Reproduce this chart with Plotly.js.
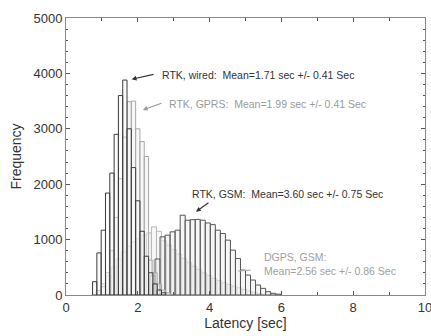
<!DOCTYPE html>
<html>
<head>
<meta charset="utf-8">
<script src="https://cdn.plot.ly/plotly-3.0.1.min.js"></script>
<style>html,body{margin:0;padding:0;background:#fff;}#chart{width:431px;height:336px;}</style>
</head>
<body>
<div id="chart"></div>
<script>
// Bin centers (sec) and frequencies
var wiredX = [0.80,0.92,1.04,1.16,1.28,1.40,1.52,1.64,1.76,1.88,2.00,2.12,2.24,2.36,2.48,2.60,2.72];
var wiredY = [240,760,1170,1840,2200,2900,3600,3880,3000,2300,1700,1150,700,400,200,90,40];

var gprsX = [1.04,1.16,1.28,1.40,1.52,1.64,1.76,1.88,2.00,2.12,2.24,2.36,2.48,2.60,2.72,2.84];
var gprsY = [150,400,800,1400,2100,2850,3490,3500,3000,2770,2500,630,400,200,90,40];

var dgpsX = [0.91,1.05,1.19,1.33,1.47,1.61,1.75,1.89,2.03,2.17,2.31,2.45,2.59,2.73,2.87,3.01,3.15,3.29,3.43,3.57,3.71,3.85,3.99,4.13,4.27,4.41,4.55,4.69,4.83,4.97,5.11,5.25,5.39];
var dgpsY = [80,200,350,500,650,780,880,960,1020,1080,1120,1230,1150,980,900,820,740,660,590,520,460,400,350,300,260,220,190,160,130,100,70,45,25];

var gsmX = [2.41,2.55,2.69,2.83,2.97,3.11,3.25,3.39,3.53,3.67,3.81,3.95,4.09,4.23,4.37,4.51,4.65,4.79,4.93,5.07,5.21,5.35,5.49,5.63,5.77,5.91];
var gsmY = [350,650,1050,1080,1140,1170,1440,1350,1360,1365,1350,1300,1270,1170,1110,990,810,660,450,360,270,180,120,60,30,15];

var xTicks = [0,2,4,6,8,10];
var yTicks = [0,1000,2000,3000,4000,5000];

var labels = {
  wired: 'RTK, wired:  Mean=1.71 sec +/- 0.41 Sec',
  gprs: 'RTK, GPRS:  Mean=1.99 sec +/- 0.41 Sec',
  gsm: 'RTK, GSM:  Mean=3.60 sec +/- 0.75 Sec',
  dgps: 'DGPS, GSM:<br>Mean=2.56 sec +/- 0.86 Sec'
};

function barTrace(x, y, w, line, fill, lw) {
  return {type:'bar', x:x, y:y, width:w, hoverinfo:'skip',
    marker:{color:fill, line:{color:line, width:lw}}};
}

var data = [
  barTrace(dgpsX, dgpsY, 0.14, '#b8b8b8', 'rgba(240,240,240,0.5)', 1),
  barTrace(gsmX, gsmY, 0.14, '#555555', 'rgba(238,238,238,0.55)', 1),
  barTrace(gprsX, gprsY, 0.12, '#a8a8a8', 'rgba(240,240,240,0.5)', 1),
  barTrace(wiredX, wiredY, 0.12, '#3a3a3a', 'rgba(245,245,245,0.35)', 1)
];

function textAnn(x, y, txt, color) {
  return {x:x, y:y, xref:'x', yref:'y', text:txt, showarrow:false, xanchor:'left', yanchor:'middle',
    align:'left', font:{size:10.5, color:color}};
}
function arrowAnn(tipX, tipY, tailX, tailY, color, head) {
  return {x:tipX, y:tipY, ax:tailX, ay:tailY, xref:'x', yref:'y', axref:'x', ayref:'y', text:'',
    showarrow:true, arrowhead:head, arrowsize:0.8, arrowwidth:1.2, arrowcolor:color};
}

var fontFam = 'Arial, "Liberation Sans", sans-serif';
var layout = {
  width:431, height:336,
  margin:{l:66, r:6, t:18, b:41},
  paper_bgcolor:'#fff', plot_bgcolor:'#fff',
  showlegend:false, barmode:'overlay', bargap:0,
  font:{family:fontFam, color:'#333', size:13},
  xaxis:{range:[0,10], tickvals:xTicks, ticktext:xTicks.map(String),
    ticks:'inside', ticklen:4, tickcolor:'#555', showline:true, linecolor:'#888', linewidth:1,
    mirror:'allticks', showgrid:false, zeroline:false, ticklabeloverflow:'allow',
    minor:{dtick:1, ticks:'inside', ticklen:3, tickcolor:'#555'},
    tickfont:{size:13, color:'#333'},
    title:{text:'Latency [sec]', font:{size:14, color:'#333'}, standoff:4}},
  yaxis:{range:[0,5000], tickvals:yTicks, ticktext:yTicks.map(String),
    ticks:'inside', ticklen:4, tickcolor:'#555', showline:true, linecolor:'#888', linewidth:1,
    mirror:'allticks', showgrid:false, zeroline:false,
    minor:{dtick:200, ticks:'inside', ticklen:2, tickcolor:'#555'},
    tickfont:{size:13, color:'#333'},
    title:{text:'Frequency', font:{size:14, color:'#333'}, standoff:8}},
  annotations:[
    textAnn(2.62, 3971, labels.wired, '#333'),
    arrowAnn(1.83, 3894, 2.48, 3989, '#333', 2),
    textAnn(2.80, 3448, labels.gprs, '#9a9a9a'),
    arrowAnn(2.14, 3340, 2.70, 3471, '#999', 2),
    textAnn(3.45, 1823, labels.gsm, '#333'),
    arrowAnn(3.62, 1504, 4.01, 1684, '#333', 2),
    textAnn(5.46, 560, labels.dgps, '#a0a0a0'),
    arrowAnn(4.79, 433, 5.18, 451, '#aaa', 0)
  ]
};

Plotly.newPlot('chart', data, layout, {staticPlot:true, displayModeBar:false});
</script>
</body>
</html>
